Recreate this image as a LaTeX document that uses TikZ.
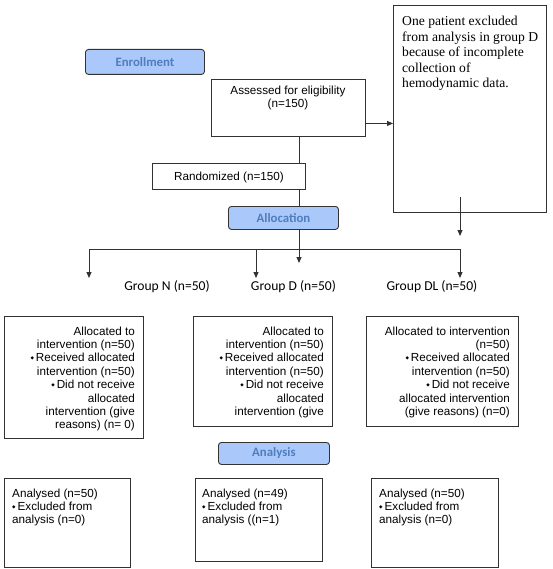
\documentclass[tikz,border=0pt]{standalone}
\usepackage{fontspec}
\setmainfont{Liberation Sans}
\newfontfamily\timesf{Liberation Serif}
\newfontfamily\calf{Carlito}
\newfontfamily\djf{DejaVu Sans}
\usetikzlibrary{arrows.meta}
\definecolor{hdrfill}{RGB}{170,200,250}
\definecolor{hdrtext}{RGB}{80,125,190}
\definecolor{linec}{RGB}{50,50,50}
\newcommand\bul{\raisebox{2pt}{\djf\fontsize{4.5}{5}\selectfont ◆}\,}
\tikzset{
  box/.style={draw=linec, line width=0.9pt, inner sep=0pt, anchor=north west},
  hdr/.style={draw=black!80, line width=0.9pt, fill=hdrfill, rounded corners=3pt, text=hdrtext,
    font=\calf\bfseries\fontsize{12.8}{14}\selectfont, inner sep=0pt, anchor=north west},
  txt/.style={font=\fontsize{11.7}{13.4}\selectfont, inner sep=0pt},
  grp/.style={font=\calf\fontsize{13.6}{15}\selectfont, inner sep=0pt, anchor=base},
  conn/.style={draw=linec, line width=0.9pt},
  arr/.style={conn, -{Triangle[length=6pt,width=5pt]}}
}
\begin{document}
\begin{tikzpicture}[x=1pt,y=-1pt]
\useasboundingbox (0,0) rectangle (552,569);
\fill[white] (0,0) rectangle (552,569);
% header boxes
\node[hdr, minimum width=119pt, minimum height=25pt] (enr) at (85,49) {Enrollment};
\node[hdr, minimum width=110pt, minimum height=23pt] (alc) at (228,206) {Allocation};
\node[hdr, minimum width=111pt, minimum height=22pt] (ana) at (218,442) {Analysis};
% enrollment boxes
\node[box, minimum width=154pt, minimum height=57pt] (ass) at (211,79) {};
\node[txt, align=center, anchor=north] (asst) at (288,85.5) {Assessed for eligibility\\(n=150)};
\node[box, minimum width=153pt, minimum height=207pt] (excl) at (393,5) {};
\node[inner sep=0pt, anchor=north west, align=left, font=\timesf\fontsize{13.6}{15.5}\selectfont] (exclt) at (402,16)
  {One patient excluded\\from analysis in group D\\because of incomplete\\collection of\\hemodynamic data.};
\node[box, minimum width=153pt, minimum height=26pt] (rand) at (152,163) {};
\node[txt, anchor=base] (randt) at (229,181) {Randomized (n=150)};
% group labels
\node[grp] (gNt) at (167,290.5) {Group N (n=50)};
\node[grp] (gDt) at (293.5,290.5) {Group D (n=50)};
\node[grp] (gDLt) at (432,290.5) {Group DL (n=50)};
% allocation boxes
\node[box, minimum width=139pt, minimum height=122pt] (a1) at (4,316) {};
\node[txt, align=right, anchor=north east] (a1t) at (135,326.5)
  {Allocated to\\intervention (n=50)\\\bul Received allocated\\intervention (n=50)\\\bul Did not receive\\allocated\\intervention (give\\reasons) (n= 0)};
\node[box, minimum width=139pt, minimum height=110pt] (a2) at (193,316) {};
\node[txt, align=right, anchor=north east] (a2t) at (324,326.5)
  {Allocated to\\intervention (n=50)\\\bul Received allocated\\intervention (n=50)\\\bul Did not receive\\allocated\\intervention (give};
\node[box, minimum width=152pt, minimum height=110pt] (a3) at (366,316) {};
\node[txt, align=right, anchor=north east] (a3t) at (510,326.5)
  {Allocated to intervention\\(n=50)\\\bul Received allocated\\intervention (n=50)\\\bul Did not receive\\allocated intervention\\(give reasons) (n=0)};
% analysis boxes
\node[box, minimum width=126pt, minimum height=89pt] (n1) at (4,478) {};
\node[txt, align=left, anchor=north west] (n1t) at (12,488.5)
  {Analysed (n=50)\\\bul Excluded from\\analysis (n=0)};
\node[box, minimum width=127pt, minimum height=83pt] (n2) at (195,478) {};
\node[txt, align=left, anchor=north west] (n2t) at (202,488.5)
  {Analysed (n=49)\\\bul Excluded from\\analysis ((n=1)};
\node[box, minimum width=127pt, minimum height=89pt] (n3) at (371,478) {};
\node[txt, align=left, anchor=north west] (n3t) at (379,488.5)
  {Analysed (n=50)\\\bul Excluded from\\analysis (n=0)};
% connectors
\coordinate (trunk) at (299,0);
\coordinate (tipD) at (299,263);
\coordinate (hl) at (89,249);
\coordinate (hr) at (460,249);
\coordinate (gN) at (89,278);
\coordinate (gD) at (256,278);
\coordinate (gDL) at (460,278);
\coordinate (e1) at (460,197);
\coordinate (e2) at (460,236);
\draw[arr] ([yshift=-15.5pt]ass.east) coordinate (t) -- (t -| excl.west);
\draw[conn] (ass.south -| trunk) -- (rand.north -| trunk);
\draw[conn] (rand.south -| trunk) -- (alc.north -| trunk);
\draw[arr] (alc.south -| trunk) -- (tipD);
\draw[conn] (hl) -- (hr);
\draw[arr] (hl) -- (gN);
\draw[arr] (gD |- hl) -- (gD);
\draw[arr] (hr) -- (gDL);
\draw[arr] (e1) -- (e2);
\end{tikzpicture}
\end{document}
